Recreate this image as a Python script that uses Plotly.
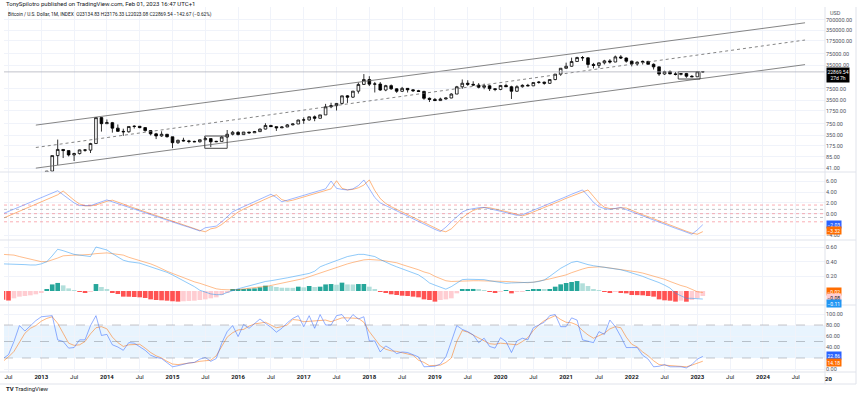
import plotly.graph_objects as go
from plotly.subplots import make_subplots

# ---------------- DATA ----------------
# month index: 0 = Jan 2013
candle_months = list(range(0, 122))
candle_open = [
    13.5, 20.4, 33.4, 93.0, 139.0, 129.0, 97.0, 106.0, 135.0, 133.0, 205.0, 1129.0,
    757, 810, 565, 457, 445, 630, 640, 585, 480, 388, 338, 378,
    320, 217, 254, 244, 236, 230, 263, 284, 230, 236, 314, 378,
    430, 369, 437, 416, 449, 531, 673, 624, 575, 609, 700, 743,
    964, 970, 1190, 1080, 1350, 2300, 2480, 2870, 4730, 4340, 6440, 10000,
    13850, 10220, 10300, 6930, 9250, 7500, 6390, 7730, 7020, 6630, 6340, 4020,
    3740, 3460, 3850, 4100, 5320, 8580, 10820, 10080, 9600, 8300, 9150, 7550,
    7200, 9350, 8600, 6410, 8630, 9450, 9140, 11350, 11660, 10780, 13800, 19700,
    28990, 33100, 45200, 58800, 57700, 37300, 35000, 41500, 47100, 43800, 61300, 57000,
    46300, 38500, 43200, 45500, 37700, 31800, 19900, 23300, 20050, 19400, 20500, 17150,
    16550, 23134.83]
candle_high = [
    20.4, 33.4, 93.0, 266.0, 140.0, 129.8, 112.0, 138.0, 142.0, 215.0, 1163.0, 1163.0,
    1000, 850, 720, 545, 630, 680, 650, 600, 490, 415, 460, 385,
    320, 265, 300, 261, 247, 268, 318, 286, 245, 330, 500, 470,
    460, 440, 439, 470, 550, 780, 703, 630, 630, 740, 760, 980,
    1150, 1210, 1300, 1350, 2790, 3000, 2950, 4750, 4980, 6450, 11400, 19800,
    17200, 11800, 11700, 9750, 9990, 7780, 8500, 7880, 7400, 7000, 6590, 4250,
    4100, 4190, 4150, 5600, 9100, 13880, 13200, 12330, 10920, 10540, 9500, 7750,
    9580, 10500, 9190, 9470, 10070, 10400, 11440, 12480, 12060, 14100, 19850, 29300,
    41950, 58350, 61800, 64900, 59600, 41300, 42300, 50500, 52900, 67000, 69000, 59000,
    48000, 45800, 48200, 47400, 40000, 31900, 24700, 25200, 22800, 21100, 21450, 18400,
    23950, 23176.33]
candle_low = [
    13.3, 19.1, 33.0, 50.0, 79.0, 88.0, 65.0, 100.0, 120.0, 110.0, 200.0, 450.0,
    750, 420, 440, 340, 420, 550, 560, 450, 350, 275, 320, 305,
    152, 200, 235, 209, 225, 220, 253, 162, 225, 235, 300, 350,
    350, 365, 390, 414, 440, 520, 610, 470, 570, 605, 680, 740,
    750, 920, 890, 1070, 1350, 2100, 1800, 2670, 2970, 4110, 5500, 10400,
    9000, 5900, 6550, 6420, 7050, 5750, 6100, 5880, 6100, 6200, 3650, 3150,
    3400, 3400, 3700, 4060, 5330, 7500, 9100, 9330, 7710, 7300, 6500, 6430,
    6850, 8450, 3850, 6150, 8130, 8900, 8990, 10530, 9830, 10380, 13200, 17600,
    28150, 32300, 45000, 47000, 30000, 28800, 29300, 37300, 39600, 43300, 53300, 42000,
    32900, 34300, 37200, 37600, 26700, 17600, 18800, 19600, 18150, 18200, 15500, 16300,
    16500, 22023.08]
candle_close = [
    20.4, 33.4, 93.0, 139.0, 129.0, 97.0, 106.0, 135.0, 133.0, 205.0, 1129.0, 757.0,
    810, 565, 457, 445, 630, 640, 585, 480, 388, 338, 378, 320,
    217, 254, 244, 236, 230, 263, 284, 230, 236, 314, 378, 430,
    369, 437, 416, 449, 531, 673, 624, 575, 609, 700, 743, 964,
    970, 1190, 1080, 1350, 2300, 2480, 2870, 4730, 4340, 6440, 10000, 13850,
    10220, 10300, 6930, 9250, 7500, 6390, 7730, 7020, 6630, 6340, 4020, 3740,
    3460, 3850, 4100, 5320, 8580, 10820, 10080, 9600, 8300, 9150, 7550, 7200,
    9350, 8600, 6410, 8630, 9450, 9140, 11350, 11660, 10780, 13800, 19700, 28990,
    33100, 45200, 58800, 57700, 37300, 35000, 41500, 47100, 43800, 61300, 57000, 46300,
    38500, 43200, 45500, 37700, 31800, 19900, 23300, 20050, 19400, 20500, 17150, 16550,
    23130, 22869.54]

# drawings on the price pane (month index, price)
channel_upper = dict(m=[-1.0, 139.7], p=[690, 578000])
channel_mid = dict(m=[-1.0, 139.7], p=[158, 186000])
channel_lower = dict(m=[-1.0, 139.7], p=[40.7, 36900])
box_2015 = dict(m=[29.9, 34.0], p=[150, 337])
box_2023 = dict(m=[116.5, 120.5], p=[14300, 23100])
last_price = 22869.54

price_ticks = [41, 85, 175, 350, 750, 1750, 3500, 7500, 35000, 75000, 175000, 350000, 700000]

# indicators, month index -7 (Jun 2012) .. 121 (Feb 2023)
ind_months = list(range(-7, 122))
osc_blue = [
    0.0, 0.4, 0.85, 1.3, 1.7, 2.1, 2.55, 3.0, 3.4, 3.8, 4.25, 3.5, 2.7, 2.0, 1.5, 1.45, 1.5, 1.85, 2.2, 2.55,
    2.2, 1.85, 1.5, 1.2, 0.85, 0.5, 0.2, -0.15, -0.5, -0.85, -1.2, -1.5, -1.85, -2.2, -2.5, -2.85, -3.2,
    -2.6, -2.5, -2.3, -1.5, -0.6, 0.35, 0.85, 1.3, 1.75, 2.2, 2.7, 3.15, 3.6, 3.0, 2.2, 2.5, 2.8, 3.1,
    3.35, 3.65, 3.95, 4.25, 4.6, 6.05, 4.7, 4.5, 4.4, 4.6, 5.2, 6.25, 4.5, 3.0, 2.0, 1.5, 1.0, 0.5, 0.0,
    -0.5, -1.0, -1.5, -2.0, -2.5, -2.9, -3.3, -2.5, -1.5, -0.6, 0.3, 0.75, 0.95, 1.1, 1.15, 0.95, 0.7,
    0.45, 0.2, -0.05, -0.3, -0.2, 0.2, 0.65, 1.05, 1.5, 1.9, 2.3, 2.75, 3.15, 3.6, 4.0, 4.4, 3.3, 2.1,
    1.3, 0.95, 0.8, 0.95, 1.15, 0.75, 0.35, 0.0, -0.4, -0.75, -1.15, -1.55, -1.9, -2.3, -2.7, -3.05,
    -3.45, -3.8, -3.0, -2.03]
osc_orange = [
    -0.85, -0.4, 0.05, 0.5, 0.9, 1.35, 1.75, 2.2, 2.6, 3.05, 3.5, 4.2, 3.3, 2.5, 1.8, 1.45, 1.45, 1.6,
    1.95, 2.3, 2.5, 2.1, 1.75, 1.4, 1.05, 0.7, 0.35, 0.0, -0.35, -0.7, -1.05, -1.4, -1.75, -2.1, -2.45,
    -2.8, -3.1, -3.35, -2.8, -2.6, -2.0, -1.2, -0.4, 0.3, 0.85, 1.35, 1.8, 2.25, 2.7, 3.15, 3.5, 2.6,
    2.3, 2.5, 2.8, 3.1, 3.35, 3.65, 3.95, 4.2, 4.6, 6.1, 4.7, 4.4, 4.5, 4.8, 5.3, 6.25, 4.3, 2.8, 1.9,
    1.3, 0.8, 0.3, -0.2, -0.7, -1.2, -1.7, -2.2, -2.7, -3.1, -3.35, -2.8, -1.8, -0.8, 0.0, 0.6, 0.95,
    1.15, 1.1, 0.9, 0.65, 0.4, 0.15, -0.1, -0.4, -0.1, 0.3, 0.75, 1.15, 1.6, 2.0, 2.4, 2.85, 3.25, 3.7,
    4.05, 4.4, 3.2, 2.0, 1.2, 0.95, 0.95, 1.1, 1.05, 0.6, 0.2, -0.2, -0.55, -0.95, -1.35, -1.7, -2.1,
    -2.5, -2.85, -3.25, -3.6, -3.8, -3.32]
osc_levels_pink = [1.6, 0.0, -1.5]
osc_levels_gray = [0.8, -0.7]

macd_line = [
    0.37, 0.37, 0.37, 0.365, 0.36, 0.355, 0.355, 0.37, 0.40, 0.48, 0.57, 0.55, 0.52, 0.50, 0.49, 0.48,
    0.47, 0.60, 0.58, 0.56, 0.51, 0.46, 0.42, 0.40, 0.39, 0.38, 0.355, 0.33, 0.31, 0.28, 0.255, 0.22,
    0.18, 0.145, 0.10, 0.06, 0.01, -0.02, -0.04, -0.05, -0.05, -0.02, 0.01, 0.03, 0.05, 0.07, 0.09,
    0.12, 0.13, 0.14, 0.15, 0.165, 0.18, 0.195, 0.21, 0.225, 0.24, 0.27, 0.33, 0.36, 0.39, 0.42, 0.45,
    0.47, 0.485, 0.50, 0.50, 0.49, 0.47, 0.43, 0.39, 0.36, 0.33, 0.30, 0.27, 0.25, 0.22, 0.17, 0.11,
    0.08, 0.05, 0.025, 0.06, 0.11, 0.155, 0.16, 0.16, 0.16, 0.155, 0.14, 0.125, 0.11, 0.105, 0.11,
    0.11, 0.11, 0.113, 0.12, 0.13, 0.15, 0.20, 0.26, 0.31, 0.35, 0.39, 0.405, 0.38, 0.36, 0.345,
    0.335, 0.325, 0.315, 0.31, 0.29, 0.27, 0.25, 0.23, 0.20, 0.17, 0.145, 0.115, 0.08, 0.04, -0.03,
    -0.07, -0.10, -0.10, -0.10, -0.11]
macd_signal = [
    0.50, 0.50, 0.49, 0.47, 0.45, 0.43, 0.41, 0.40, 0.40, 0.42, 0.45, 0.48, 0.49, 0.49, 0.49, 0.49,
    0.50, 0.51, 0.52, 0.52, 0.51, 0.50, 0.49, 0.46, 0.44, 0.42, 0.40, 0.37, 0.34, 0.30, 0.27, 0.24,
    0.21, 0.18, 0.15, 0.125, 0.105, 0.08, 0.05, 0.03, 0.02, 0.015, 0.014, 0.02, 0.03, 0.04, 0.05,
    0.055, 0.06, 0.075, 0.09, 0.105, 0.12, 0.135, 0.15, 0.17, 0.195, 0.22, 0.245, 0.27, 0.30, 0.33,
    0.35, 0.37, 0.39, 0.41, 0.425, 0.43, 0.43, 0.42, 0.41, 0.40, 0.385, 0.36, 0.34, 0.31, 0.29, 0.26,
    0.24, 0.20, 0.17, 0.14, 0.13, 0.135, 0.14, 0.14, 0.14, 0.14, 0.14, 0.14, 0.14, 0.135, 0.13, 0.125,
    0.12, 0.115, 0.113, 0.12, 0.13, 0.15, 0.165, 0.18, 0.195, 0.22, 0.25, 0.28, 0.30, 0.32, 0.33,
    0.33, 0.325, 0.315, 0.31, 0.30, 0.29, 0.275, 0.26, 0.245, 0.225, 0.205, 0.18, 0.16, 0.13, 0.10,
    0.075, 0.055, 0.02, -0.01, -0.02]
macd_hist = [
    -0.12, -0.13, -0.10, -0.077, -0.068, -0.059, -0.045, -0.023, 0.014, 0.09, 0.11, 0.077, 0.036,
    0.009, -0.009, -0.023, -0.009, 0.095, 0.055, 0.027, -0.014, -0.041, -0.077, -0.078, -0.082,
    -0.086, -0.095, -0.114, -0.123, -0.127, -0.132, -0.14, -0.145, -0.14, -0.136, -0.132, -0.123,
    -0.114, -0.10, -0.086, -0.055, -0.023, 0.023, 0.024, 0.027, 0.032, 0.036, 0.05, 0.073, 0.068,
    0.055, 0.045, 0.044, 0.043, 0.059, 0.05, 0.068, 0.055, 0.059, 0.09, 0.095, 0.086, 0.114, 0.09,
    0.089, 0.095, 0.096, 0.059, 0.023, -0.009, -0.023, -0.045, -0.055, -0.064, -0.068, -0.077,
    -0.086, -0.114, -0.123, -0.145, -0.123, -0.114, -0.10, -0.032, 0.018, 0.027, 0.028, 0.014,
    0.009, -0.005, -0.023, -0.009, 0.005, -0.032, -0.009, -0.005, 0.009, 0.014, 0.018, 0.014, 0.023,
    0.059, 0.091, 0.109, 0.123, 0.136, 0.105, 0.068, 0.023, 0.009, -0.005, -0.023, -0.009, -0.018,
    -0.032, -0.055, -0.056, -0.059, -0.068, -0.077, -0.114, -0.127, -0.132, -0.145, -0.132, -0.146,
    -0.123, -0.10, -0.068]

stoch_k = [
    19, 26, 50, 79, 69, 79, 88, 95, 96, 97, 53, 50, 38, 39, 53, 53, 79, 97, 61, 63, 44, 40, 34, 48,
    47, 40, 34, 25, 21, 19, 12, 4, 6, 9, 11, 12, 18, 21, 14, 19, 47, 68, 79, 59, 81, 74, 82, 91, 83,
    76, 67, 74, 84, 92, 97, 77, 97, 74, 99, 80, 80, 97, 99, 86, 99, 91, 95, 51, 51, 31, 42, 36, 28,
    31, 30, 26, 22, 4, 4, 5, 9, 22, 50, 79, 72, 68, 62, 48, 56, 41, 38, 57, 50, 30, 51, 56, 53, 75,
    80, 85, 97, 99, 77, 77, 93, 89, 53, 50, 48, 68, 63, 89, 77, 59, 39, 39, 39, 25, 18, 4, 5, 8, 4,
    4, 4, 2, 8, 18, 22.86]
stoch_d = [
    14, 22, 32, 49, 65, 74, 79, 87, 92, 95, 83, 65, 47, 43, 44, 50, 64, 75, 77, 73, 58, 48, 41, 44,
    45, 45, 38, 30, 24, 20, 14, 9, 8, 9, 10, 12, 14, 15, 16, 24, 40, 58, 66, 71, 72, 78, 82, 84, 85,
    80, 75, 77, 80, 90, 89, 86, 87, 87, 88, 89, 86, 90, 93, 93, 93, 92, 85, 68, 55, 42, 36, 33, 32,
    30, 27, 25, 16, 12, 6, 6, 7, 12, 20, 50, 70, 67, 62, 57, 52, 46, 45, 47, 46, 45, 44, 50, 57, 70,
    80, 88, 93, 97, 90, 85, 84, 80, 70, 62, 56, 60, 65, 73, 77, 75, 58, 45, 40, 31, 24, 15, 8, 7, 6,
    5, 4, 4, 7, 11, 14.18]
stoch_levels = [80, 50, 20]

# time axis labels
time_tick_months = list(range(-6, 144, 6))
time_tick_text = [("Jul" if m % 12 else "<b>%d</b>" % (2013 + m // 12)) for m in time_tick_months]

# ---------------- GEOMETRY (pixels) ----------------
W, H = 860, 396
L, R, T, B = 4, 825, 7, 372
PW, PH = R - L, B - T


def py(y):  # pixel y -> paper y
    return (B - y) / PH


def px(x):  # pixel x -> paper x
    return (x - L) / PW


FONT = "Roboto, Liberation Sans, sans-serif"
TXT = "#131722"
GRID = "#f0f3fa"
SEP = "#e0e3eb"

fig = make_subplots(rows=4, cols=1, shared_xaxes=True, vertical_spacing=0)

# price pane
fig.add_trace(go.Candlestick(
    x=candle_months, open=candle_open, high=candle_high, low=candle_low, close=candle_close,
    increasing=dict(line=dict(color="#000000", width=0.8), fillcolor="#ffffff"),
    decreasing=dict(line=dict(color="#000000", width=0.8), fillcolor="#000000"),
    whiskerwidth=0, showlegend=False, hoverinfo="skip"), row=1, col=1)

for ch, dash in ((channel_upper, "solid"), (channel_mid, "dot"), (channel_lower, "solid")):
    fig.add_trace(go.Scatter(x=ch["m"], y=ch["p"], mode="lines",
                             line=dict(color="#666666", width=0.8, dash=dash),
                             showlegend=False, hoverinfo="skip"), row=1, col=1)

for bx in (box_2015, box_2023):
    fig.add_shape(type="rect", xref="x", yref="y", x0=bx["m"][0], x1=bx["m"][1],
                  y0=bx["p"][0], y1=bx["p"][1], line=dict(color="#333333", width=0.9))

fig.add_shape(type="line", xref="paper", yref="y", x0=0, x1=1, y0=last_price, y1=last_price,
              line=dict(color="#b0b3bb", width=0.8))

# oscillator pane
for lv in osc_levels_pink:
    fig.add_shape(type="line", xref="paper", yref="y2", x0=0, x1=1, y0=lv, y1=lv,
                  line=dict(color="rgba(242,54,69,0.45)", width=0.9, dash="dot"))
for lv in osc_levels_gray:
    fig.add_shape(type="line", xref="paper", yref="y2", x0=0, x1=1, y0=lv, y1=lv,
                  line=dict(color="rgba(120,123,134,0.5)", width=0.9, dash="dot"))
fig.add_trace(go.Scatter(x=ind_months, y=osc_orange, mode="lines",
                         line=dict(color="rgba(255,109,0,0.5)", width=1),
                         showlegend=False, hoverinfo="skip"), row=2, col=1)
fig.add_trace(go.Scatter(x=ind_months, y=osc_blue, mode="lines",
                         line=dict(color="rgba(41,98,255,0.45)", width=1),
                         showlegend=False, hoverinfo="skip"), row=2, col=1)

# MACD pane
hist_cols = []
prev = None
for v in macd_hist:
    if v >= 0:
        hist_cols.append("#26A69A" if (prev is None or v > prev) else "#B2DFDB")
    else:
        hist_cols.append("#FFCDD2" if (prev is not None and v > prev) else "#FF5252")
    prev = v
fig.add_trace(go.Bar(x=ind_months, y=macd_hist, marker=dict(color=hist_cols, line=dict(width=0)),
                     width=0.85, showlegend=False, hoverinfo="skip"), row=3, col=1)
fig.add_trace(go.Scatter(x=ind_months, y=macd_signal, mode="lines",
                         line=dict(color="rgba(255,109,0,0.45)", width=1),
                         showlegend=False, hoverinfo="skip"), row=3, col=1)
fig.add_trace(go.Scatter(x=ind_months, y=macd_line, mode="lines",
                         line=dict(color="rgba(33,150,243,0.5)", width=1),
                         showlegend=False, hoverinfo="skip"), row=3, col=1)

# Stoch RSI pane
fig.add_shape(type="rect", xref="paper", yref="y4", x0=0, x1=1, y0=stoch_levels[2], y1=stoch_levels[0],
              fillcolor="rgba(33,150,243,0.1)", line=dict(width=0), layer="below")
for lv in stoch_levels:
    fig.add_shape(type="line", xref="paper", yref="y4", x0=0, x1=1, y0=lv, y1=lv,
                  line=dict(color="rgba(120,123,134,0.55)", width=0.8, dash="dash"))
fig.add_trace(go.Scatter(x=ind_months, y=stoch_d, mode="lines",
                         line=dict(color="rgba(255,109,0,0.5)", width=1),
                         showlegend=False, hoverinfo="skip"), row=4, col=1)
fig.add_trace(go.Scatter(x=ind_months, y=stoch_k, mode="lines",
                         line=dict(color="rgba(41,98,255,0.5)", width=1),
                         showlegend=False, hoverinfo="skip"), row=4, col=1)

# ---------------- AXES ----------------
xr = [(L - 41.3) / 5.467, (R - 41.3) / 5.467]
for i in range(1, 5):
    fig.update_xaxes(row=i, col=1, range=xr, tickvals=time_tick_months, ticktext=time_tick_text,
                     showgrid=True, gridcolor=GRID, gridwidth=1, zeroline=False, showline=False,
                     showticklabels=(i == 4), ticks="", rangeslider_visible=False,
                     tickfont=dict(family=FONT, size=6, color=TXT))

axis_common = dict(side="right", showgrid=True, gridcolor=GRID, gridwidth=1, zeroline=False,
                   showline=False, ticks="", tickfont=dict(family=FONT, size=5.5, color="#50535e"))

fig.update_layout(
    yaxis=dict(domain=[py(172), py(T)], type="log", range=[1.499, 6.213], tickvals=price_ticks,
               ticktext=["%.2f" % v for v in price_ticks], **axis_common),
    yaxis2=dict(domain=[py(240), py(172)], range=[-4.87, 7.72], tickvals=[6, 4, 2, 0, -4],
                ticktext=["6.00", "4.00", "2.00", "0.00", "\u22124.00"], **axis_common),
    yaxis3=dict(domain=[py(305), py(240)], range=[-0.191, 0.696], tickvals=[0.6, 0.4, 0.2],
                ticktext=["0.60", "0.40", "0.20"], **axis_common),
    yaxis4=dict(domain=[0, py(305)], range=[-5.45, 116.4], tickvals=[100, 80, 60, 40, 0],
                ticktext=["100.00", "80.00", "60.00", "40.00", "0.00"], **axis_common),
)

# ---------------- FRAME / SEPARATORS ----------------
for ysep in (172, 240, 305):
    fig.add_shape(type="line", xref="paper", yref="paper", x0=px(0), x1=px(856), y0=py(ysep), y1=py(ysep),
                  line=dict(color=SEP, width=1))
fig.add_shape(type="line", xref="paper", yref="paper", x0=px(0), x1=px(856), y0=py(B), y1=py(B),
              line=dict(color=SEP, width=1))
fig.add_shape(type="line", xref="paper", yref="paper", x0=px(0), x1=px(856), y0=py(384), y1=py(384),
              line=dict(color=SEP, width=1))
fig.add_shape(type="line", xref="paper", yref="paper", x0=px(R), x1=px(R), y0=py(384), y1=py(T),
              line=dict(color=SEP, width=1))
fig.add_shape(type="line", xref="paper", yref="paper", x0=px(856), x1=px(856), y0=py(384), y1=py(T),
              line=dict(color=SEP, width=1))

# ---------------- TEXT ----------------
ann = []
ann.append(dict(text="TonySpilotro published on TradingView.com, Feb 01, 2023 16:47 UTC+1",
                x=px(4), y=py(4), xanchor="left", yanchor="middle",
                font=dict(family=FONT, size=6, color=TXT)))
ann.append(dict(text="Bitcoin / U.S. Dollar, 1M, INDEX  O23134.83 H23176.33 L22023.08 C22869.54 \u2212142.67 (\u22120.62%)",
                x=px(6), y=py(14), xanchor="left", yanchor="middle",
                font=dict(family=FONT, size=4.8, color=TXT)))
ann.append(dict(text="USD", x=px(828), y=py(13), xanchor="left", yanchor="middle",
                font=dict(family=FONT, size=5.5, color="#50535e")))
ann.append(dict(text="<b>20</b>", x=px(829), y=py(378), xanchor="center", yanchor="middle",
                font=dict(family=FONT, size=6, color=TXT)))
ann.append(dict(text="<b>TV</b> TradingView", x=px(4), y=py(389), xanchor="left", yanchor="middle",
                font=dict(family=FONT, size=6, color="#131722")))


def tag(y_pix, text, bg, fg="#ffffff"):
    ann.append(dict(text=text, x=px(R + 1), y=py(y_pix), xanchor="left", yanchor="middle",
                    bgcolor=bg, borderpad=0.5, font=dict(family=FONT, size=5, color=fg)))


tag(75, "22869.54<br>27d 7h", "#000000")
tag(224, "\u22122.03", "#2962FF")
tag(231, "\u22123.32", "#FF6D00")
tag(291, "\u22120.02", "#FF6D00")
tag(297, "\u22120.08", "#FFCDD2", "#131722")
tag(303, "\u22120.11", "#2196F3")
tag(355, "22.86", "#2962FF")
tag(362, "14.18", "#FF6D00")

for a in ann:
    a.update(xref="paper", yref="paper", showarrow=False)

fig.update_layout(
    width=W, height=H, margin=dict(l=L, r=W - R, t=T, b=H - B),
    paper_bgcolor="#ffffff", plot_bgcolor="#ffffff", annotations=ann,
    bargap=0.1, showlegend=False, font=dict(family=FONT, size=6, color=TXT),
)

fig.write_html("out.html", config={"displayModeBar": False},
               post_script="document.body.style.margin='0';document.body.style.overflow='hidden';")
